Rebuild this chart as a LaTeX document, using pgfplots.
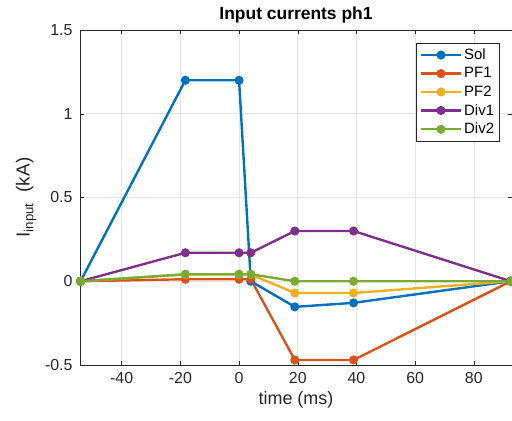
\documentclass[border=0pt]{standalone}
\usepackage{pgfplots}
\pgfplotsset{compat=1.18}
\usepackage{fontspec}
\setmainfont{Liberation Sans}
\definecolor{c1}{HTML}{0072BD}
\definecolor{c2}{HTML}{D95319}
\definecolor{c3}{HTML}{EDB120}
\definecolor{c4}{HTML}{7E2F8E}
\definecolor{c5}{HTML}{77AC30}
\definecolor{axgray}{gray}{0.15}
\begin{document}
\begin{tikzpicture}
\begin{axis}[
  scale only axis,
  width=432bp, height=335bp,
  xmin=-54.2, xmax=93, ymin=-0.5, ymax=1.5,
  xtick={-40,-20,0,20,40,60,80},
  ytick={-0.5,0,0.5,1,1.5},
  yticklabels={-0.5,0,0.5,1,1.5},
  /pgf/number format/assume math mode=true,
  tick label style={font=\fontsize{16}{18}\selectfont, color=axgray},
  xticklabel style={yshift=-4bp},
  yticklabel style={xshift=-4bp},
  xlabel={time (ms)},
  ylabel={I\textsubscript{input}\ \ (kA)},
  xlabel style={font=\fontsize{18}{20}\selectfont, color=axgray, yshift=-1bp},
  ylabel style={font=\fontsize{19}{21}\selectfont, color=axgray, yshift=2bp},
  title={\textbf{Input currents ph1}},
  title style={font=\fontsize{17.5}{20}\selectfont, yshift=-3bp},
  grid=major,
  grid style={gray!20, line width=0.7pt},
  axis line style={axgray, line width=0.7pt},
  tick style={axgray},
  tick align=inside,
  every tick/.style={axgray},
  legend style={at={(0.972,0.961)}, anchor=north east, font=\fontsize{15}{17}\selectfont, draw=axgray, line width=0.7pt, row sep=2.5pt, inner xsep=3.5pt, inner ysep=3.5pt},
  legend image code/.code={\draw[#1] (0bp,0bp) -- (40bp,0bp); \draw[#1, mark repeat=1] plot coordinates {(20bp,0bp)};},
  legend cell align=left,
  every axis plot/.append style={line width=2.4pt, mark=*, mark size=3.3pt},
  clip=false,
]
\addplot[c1, mark options={fill=c1}] coordinates {(-54,0) (-18.3,1.2) (0,1.2) (4,0) (19,-0.153) (39,-0.129) (92.6,0)};
\addlegendentry{Sol}
\addplot[c2, mark options={fill=c2}] coordinates {(-54,0) (-18.3,0.012) (0,0.012) (4,0.012) (19,-0.47) (39,-0.47) (92.6,0)};
\addlegendentry{PF1}
\addplot[c3, mark options={fill=c3}] coordinates {(-54,0) (-18.3,0.04) (0,0.04) (4,0.04) (19,-0.07) (39,-0.07) (92.6,0)};
\addlegendentry{PF2}
\addplot[c4, mark options={fill=c4}] coordinates {(-54,0) (-18.3,0.17) (0,0.17) (4,0.17) (19,0.3) (39,0.3) (92.6,0)};
\addlegendentry{Div1}
\addplot[c5, mark options={fill=c5}] coordinates {(-54,0) (-18.3,0.042) (0,0.042) (4,0.042) (19,0) (39,0) (92.6,0)};
\addlegendentry{Div2}
\end{axis}
\path (current axis.south west) ++(-80bp,-56bp) coordinate (bbA);
\path (current axis.north east) ++(0bp,30bp) coordinate (bbB);
\pgfresetboundingbox
\useasboundingbox (bbA) rectangle (bbB);
\end{tikzpicture}
\end{document}
